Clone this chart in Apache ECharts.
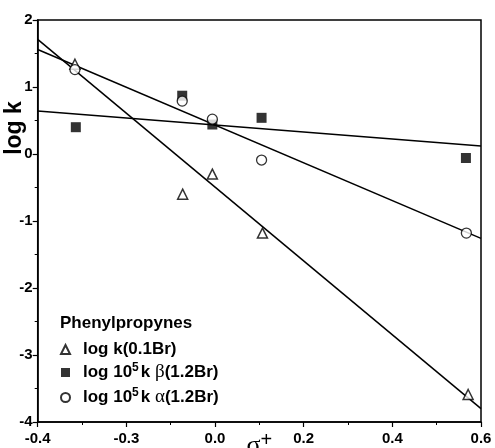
<!DOCTYPE html>
<html><head><meta charset="utf-8">
<script src="https://cdn.jsdelivr.net/npm/echarts@6/dist/echarts.min.js"></script>
<style>html,body{margin:0;padding:0;background:#fff}#c{width:495px;height:448px}</style>
</head><body><div id="c"></div>
<script>
// Data
const triData   = [[-0.316, 1.34], [-0.073, -0.60], [-0.006, -0.30], [0.107, -1.18], [0.571, -3.59]];
const betaData  = [[-0.314, 0.40], [-0.074, 0.87], [-0.006, 0.44], [0.105, 0.54], [0.566, -0.06]];
const alphaData = [[-0.316, 1.26], [-0.074, 0.79], [-0.006, 0.52], [0.105, -0.09], [0.567, -1.18]];
// fitted lines (endpoints at axis limits)
const triFit   = [[-0.4, 1.71], [0.6, -3.80]];
const betaFit  = [[-0.4, 0.64], [0.6, 0.12]];
const alphaFit = [[-0.4, 1.56], [0.6, -1.26]];
const xTickValues = [-0.4, -0.2, 0.0, 0.2, 0.4, 0.6];
const xTickLabels = ['-0.4', '-0.3', '0.0', '0.2', '0.4', '0.6'];
const legendTitle = 'Phenylpropynes';

const chart = echarts.init(document.getElementById('c'));
const F = 'Liberation Sans, Arial, sans-serif';
const lab = {fontFamily: F, fontWeight: 'bold', fontSize: 15, color: '#000'};
const lineSeries = (d) => ({type: 'line', data: d, symbol: 'none', silent: true,
  lineStyle: {color: '#000', width: 1.5}, z: 1});
const rich = {
  sp: {width: 8, lineHeight: 20},
  a: {fontFamily: F, fontWeight: 'bold', fontSize: 17, color: '#000', lineHeight: 20},
  sup: {fontFamily: F, fontWeight: 'bold', fontSize: 12, color: '#000', lineHeight: 20, padding: [0, 2, 9, 0]},
  g: {fontFamily: 'Liberation Serif, serif', fontSize: 19, color: '#000', lineHeight: 20}
};
chart.setOption({
  animation: false,
  grid: {left: 37.7, right: 14, top: 20, bottom: 26, containLabel: false, outerBoundsMode: 'none',
    show: true, borderColor: '#000', borderWidth: 1.5},
  xAxis: {type: 'value', min: -0.4, max: 0.6, interval: 0.2,
    axisLine: {onZero: false, lineStyle: {color: '#000', width: 1.5}},
    axisTick: {inside: false, length: 5, lineStyle: {color: '#000', width: 1.2}},
    minorTick: {show: true, splitNumber: 2, length: 3, lineStyle: {color: '#000'}},
    splitLine: {show: false},
    axisLabel: Object.assign({margin: 9, formatter: v => {
      const i = xTickValues.findIndex(t => Math.abs(t - v) < 1e-6);
      return i >= 0 ? xTickLabels[i] : ''; }}, lab),
    name: '{s|σ}{p|+}', nameLocation: 'middle', nameGap: 8, nameMoveOverlap: false,
    nameTextStyle: {verticalAlign: 'top', rich: {s: {fontFamily: 'Liberation Serif, serif', fontSize: 26, color: '#000'},
      p: {fontFamily: F, fontSize: 20, color: '#000', padding: [0, 0, 12, 0]}}}
  },
  yAxis: {type: 'value', min: -4, max: 2, interval: 1,
    axisLine: {show: true, onZero: false, lineStyle: {color: '#000', width: 1.5}},
    axisTick: {show: true, inside: false, length: 5, lineStyle: {color: '#000', width: 1.2}},
    minorTick: {show: true, splitNumber: 2, length: 3, lineStyle: {color: '#000'}},
    splitLine: {show: false},
    axisLabel: Object.assign({margin: 5}, lab)
  },
  legend: {orient: 'vertical', left: 60, top: 341, itemGap: 4, itemWidth: 9, itemHeight: 9,
    padding: 0,
    data: ['tri', 'beta', 'alpha'],
    formatter: n => n === 'tri' ? '{sp|}{a|log k(0.1Br)}' :
      n === 'beta' ? '{sp|}{a|log 10}{sup|5}{a|k }{g|β}{a|(1.2Br)}' : '{sp|}{a|log 10}{sup|5}{a|k }{g|α}{a|(1.2Br)}',
    textStyle: {rich: rich}},
  graphic: [
    {type: 'text', left: 60, top: 315, style: {text: legendTitle, font: 'bold 17px ' + F, fill: '#000'}},
    {type: 'text', x: 15, y: 128, rotation: Math.PI / 2,
      style: {text: 'log k', font: 'bold 23px ' + F, fill: '#000', align: 'center', verticalAlign: 'middle'}}
  ],
  series: [
    lineSeries(triFit), lineSeries(betaFit), lineSeries(alphaFit),
    {name: 'tri', type: 'scatter', data: triData, symbol: 'triangle', symbolSize: 10,
      itemStyle: {color: '#fff', borderColor: '#000', borderWidth: 1.5}, z: 3},
    {name: 'beta', type: 'scatter', data: betaData, symbol: 'rect', symbolSize: 10,
      itemStyle: {color: '#000', borderColor: '#000', borderWidth: 0}, z: 3},
    {name: 'alpha', type: 'scatter', data: alphaData, symbol: 'circle', symbolSize: 10,
      itemStyle: {color: '#fff', borderColor: '#000', borderWidth: 1.3}, z: 3}
  ]
});
</script></body></html>
